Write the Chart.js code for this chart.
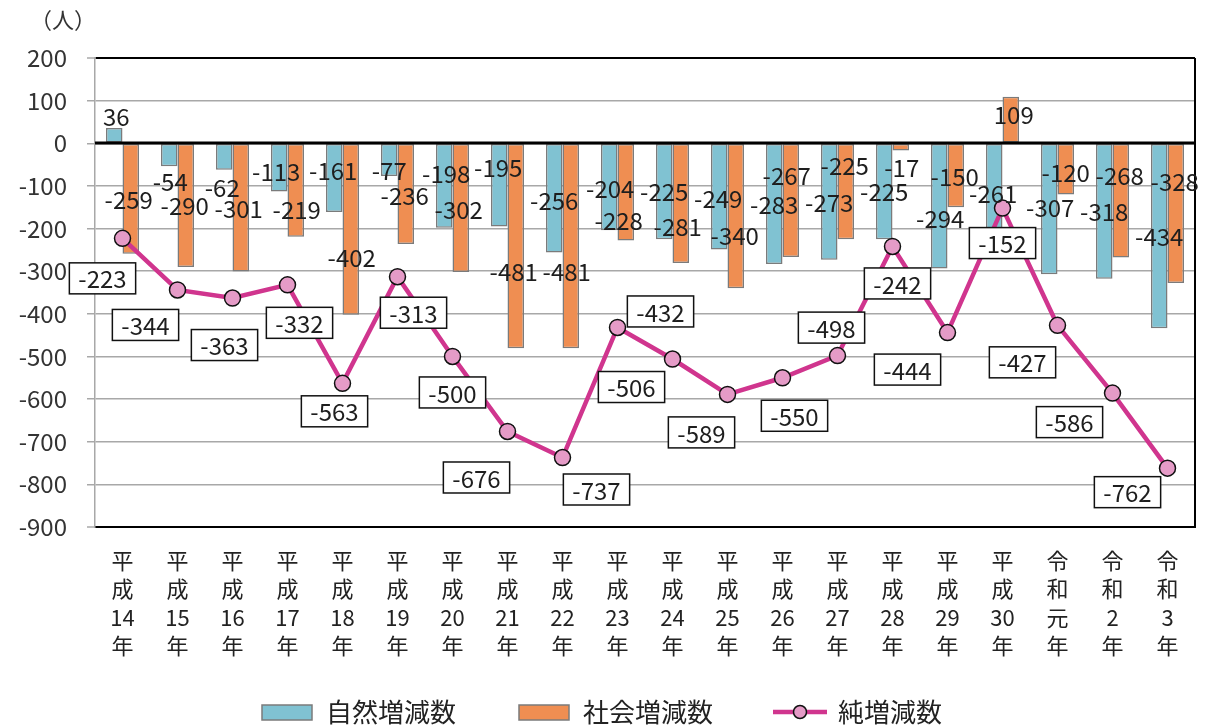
<!DOCTYPE html>
<html><head><meta charset="utf-8">
<script src="https://cdn.jsdelivr.net/npm/chart.js@4/dist/chart.umd.min.js"></script>
<style>html,body{margin:0;padding:0;background:#fff}#wrap{width:1206px;height:725px}</style>
</head><body><div id="wrap"><canvas id="c" width="1206" height="725"></canvas></div>
<script>
const categories = ['平成14年','平成15年','平成16年','平成17年','平成18年','平成19年','平成20年','平成21年','平成22年','平成23年','平成24年','平成25年','平成26年','平成27年','平成28年','平成29年','平成30年','令和元年','令和2年','令和3年'];
const naturalChange = [36,-54,-62,-113,-161,-77,-198,-195,-256,-204,-225,-249,-283,-273,-225,-294,-261,-307,-318,-434];
const socialChange = [-259,-290,-301,-219,-402,-236,-302,-481,-481,-228,-281,-340,-267,-225,-17,-150,109,-120,-268,-328];
const netChange = [-223,-344,-363,-332,-563,-313,-500,-676,-737,-432,-506,-589,-550,-498,-242,-444,-152,-427,-586,-762];
const seriesNames = ['自然増減数','社会増減数','純増減数'];
const unitLabel = '（人）';
const yMin = -900, yMax = 200, yStep = 100;

// label offsets (px) relative to each mark
const naturalLabelOffset = [[2,-11],[1,16],[-2,18],[-3,-20],[-1,-41],[0,-5],[2,-54],[-1,-59],[0,-52],[1,-41],[0,-47],[-1,-51],[0,-59],[0,-57],[0,-47],[1,-50],[-1,-61],[1,-66],[0,-67],[0,-91]];
const socialLabelOffset = [[-2,-54],[-1,-61],[-2,-63],[1,-27],[1,-57],[-1,-48],[-2,-62],[-2,-76],[-4,-76],[-7,-20],[-3,-36],[-1,-52],[-4,-81],[-1,-73],[1,17],[-1,-30],[3,18],[0,-22],[-1,-82],[-1,-101]];
const netLabelOffset = [[-20,40],[-32,35],[-8,47],[12,38],[-8,28],[16,36],[0,36],[-31,46],[34,32],[43,-16],[-41,28],[-26,38],[12,38],[-6,-28],[5,37],[-40,37],[0,35],[-35,37],[-43,29],[-40,24]];

const FONT = '"Noto Sans CJK JP","Noto Sans",sans-serif';
const BLUE = '#80c2d2', ORANGE = '#ef8e52', BORDER = '#7b7b7b', LINE = '#d0358e', POINT = '#e59bc7';

function splitLabel(s){
  const head = [s[0], s[1]];
  const mid = s.slice(2, s.length-1);
  return [...head, mid, s[s.length-1]];
}

const labelsPlugin = {
  id:'labels',
  afterDatasetsDraw(chart){
    const ctx = chart.ctx, area = chart.chartArea, ys = chart.scales.y;
    ctx.save();
    ctx.strokeStyle = '#000'; ctx.lineWidth = 3;
    const y0 = Math.round(ys.getPixelForValue(0));
    ctx.beginPath(); ctx.moveTo(area.left, y0); ctx.lineTo(area.right, y0); ctx.stroke();
    ctx.lineWidth = 2;
    ctx.beginPath(); ctx.moveTo(area.right, area.top); ctx.lineTo(area.right, area.bottom); ctx.stroke();
    ctx.restore();

    ctx.save();
    ctx.font = '24px ' + FONT;
    ctx.fillStyle = '#1e1e1e';
    ctx.textAlign = 'center'; ctx.textBaseline = 'middle';
    const sets = [[0, naturalChange, naturalLabelOffset],[1, socialChange, socialLabelOffset]];
    sets.forEach(([di, vals, off]) => {
      const meta = chart.getDatasetMeta(di);
      meta.data.forEach((el, i) => {
        const p = el.getProps(['x','y'], true);
        ctx.fillText(String(vals[i]), p.x + off[i][0], p.y + off[i][1]);
      });
    });
    const meta = chart.getDatasetMeta(2);
    meta.data.forEach((el, i) => {
      const p = el.getProps(['x','y'], true);
      const t = String(netChange[i]);
      const cx = p.x + netLabelOffset[i][0], cy = p.y + netLabelOffset[i][1];
      const w = ctx.measureText(t).width + 18, h = 31;
      ctx.fillStyle = '#fff';
      ctx.fillRect(cx - w/2, cy - h/2, w, h);
      ctx.strokeStyle = '#111'; ctx.lineWidth = 1.5;
      ctx.strokeRect(cx - w/2, cy - h/2, w, h);
      ctx.fillStyle = '#1e1e1e';
      ctx.fillText(t, cx, cy + 1);
    });
    ctx.restore();
  },
  afterDraw(chart){
    const ctx = chart.ctx;
    ctx.save();
    ctx.font = '22px ' + FONT;
    ctx.fillStyle = '#333'; ctx.textBaseline = 'middle'; ctx.textAlign = 'left';
    ctx.fillText(unitLabel, 30, 20);
    // legend
    const ly = 712;
    ctx.font = '26px ' + FONT;
    ctx.lineWidth = 1.5; ctx.strokeStyle = BORDER;
    ctx.fillStyle = BLUE; ctx.fillRect(262, ly-7, 50, 15); ctx.strokeRect(262, ly-7, 50, 15);
    ctx.fillStyle = '#222'; ctx.fillText(seriesNames[0], 326, ly);
    ctx.strokeStyle = BORDER;
    ctx.fillStyle = ORANGE; ctx.fillRect(519, ly-7, 50, 15); ctx.strokeRect(519, ly-7, 50, 15);
    ctx.fillStyle = '#222'; ctx.fillText(seriesNames[1], 583, ly);
    ctx.strokeStyle = LINE; ctx.lineWidth = 4.5;
    ctx.beginPath(); ctx.moveTo(773, ly); ctx.lineTo(827, ly); ctx.stroke();
    ctx.beginPath(); ctx.arc(800, ly, 6.5, 0, Math.PI*2);
    ctx.fillStyle = POINT; ctx.fill(); ctx.lineWidth = 1.5; ctx.strokeStyle = '#111'; ctx.stroke();
    ctx.fillStyle = '#222'; ctx.fillText(seriesNames[2], 838, ly);
    ctx.restore();
  }
};

new Chart(document.getElementById('c'), {
  data: {
    labels: categories.map(splitLabel),
    datasets: [
      { type:'bar', label: seriesNames[0], data: naturalChange, backgroundColor: BLUE, borderColor: BORDER, borderWidth: 1.5, borderSkipped: false, categoryPercentage: 0.6, barPercentage: 1.0, order: 2 },
      { type:'bar', label: seriesNames[1], data: socialChange, backgroundColor: ORANGE, borderColor: BORDER, borderWidth: 1.5, borderSkipped: false, categoryPercentage: 0.6, barPercentage: 1.0, order: 2 },
      { type:'line', label: seriesNames[2], data: netChange, borderColor: LINE, borderWidth: 4.5, tension: 0, pointRadius: 8, pointBackgroundColor: POINT, pointBorderColor: '#111', pointBorderWidth: 1.5, order: 1 }
    ]
  },
  options: {
    responsive: false, animation: false,
    layout: { padding: { top: 58, right: 11, bottom: 0, left: 0 } },
    plugins: { legend: { display: false }, tooltip: { enabled: false } },
    scales: {
      x: {
        grid: { display: false, drawTicks: false },
        border: { display: true, color: '#000', width: 2 },
        ticks: { color: '#222', font: { size: 22, family: FONT, lineHeight: 1.3 }, padding: 19, maxRotation: 0, autoSkip: false },
        afterFit: s => { s.height = 198; }
      },
      y: {
        min: yMin, max: yMax,
        ticks: { stepSize: yStep, color: '#333', font: { size: 24, family: FONT }, padding: 20 },
        grid: {
          color: c => (c.tick && (c.tick.value === yMax || c.tick.value === yMin)) ? '#000' : '#a8a8a8',
          lineWidth: c => (c.tick && (c.tick.value === yMax || c.tick.value === yMin)) ? 2 : 1.5,
          tickLength: 8, tickColor: '#a8a8a8', tickWidth: 1.5
        },
        border: { color: '#a8a8a8', width: 1.5 },
        afterFit: s => { s.width = 95; }
      }
    }
  },
  plugins: [labelsPlugin]
});
</script></body></html>
